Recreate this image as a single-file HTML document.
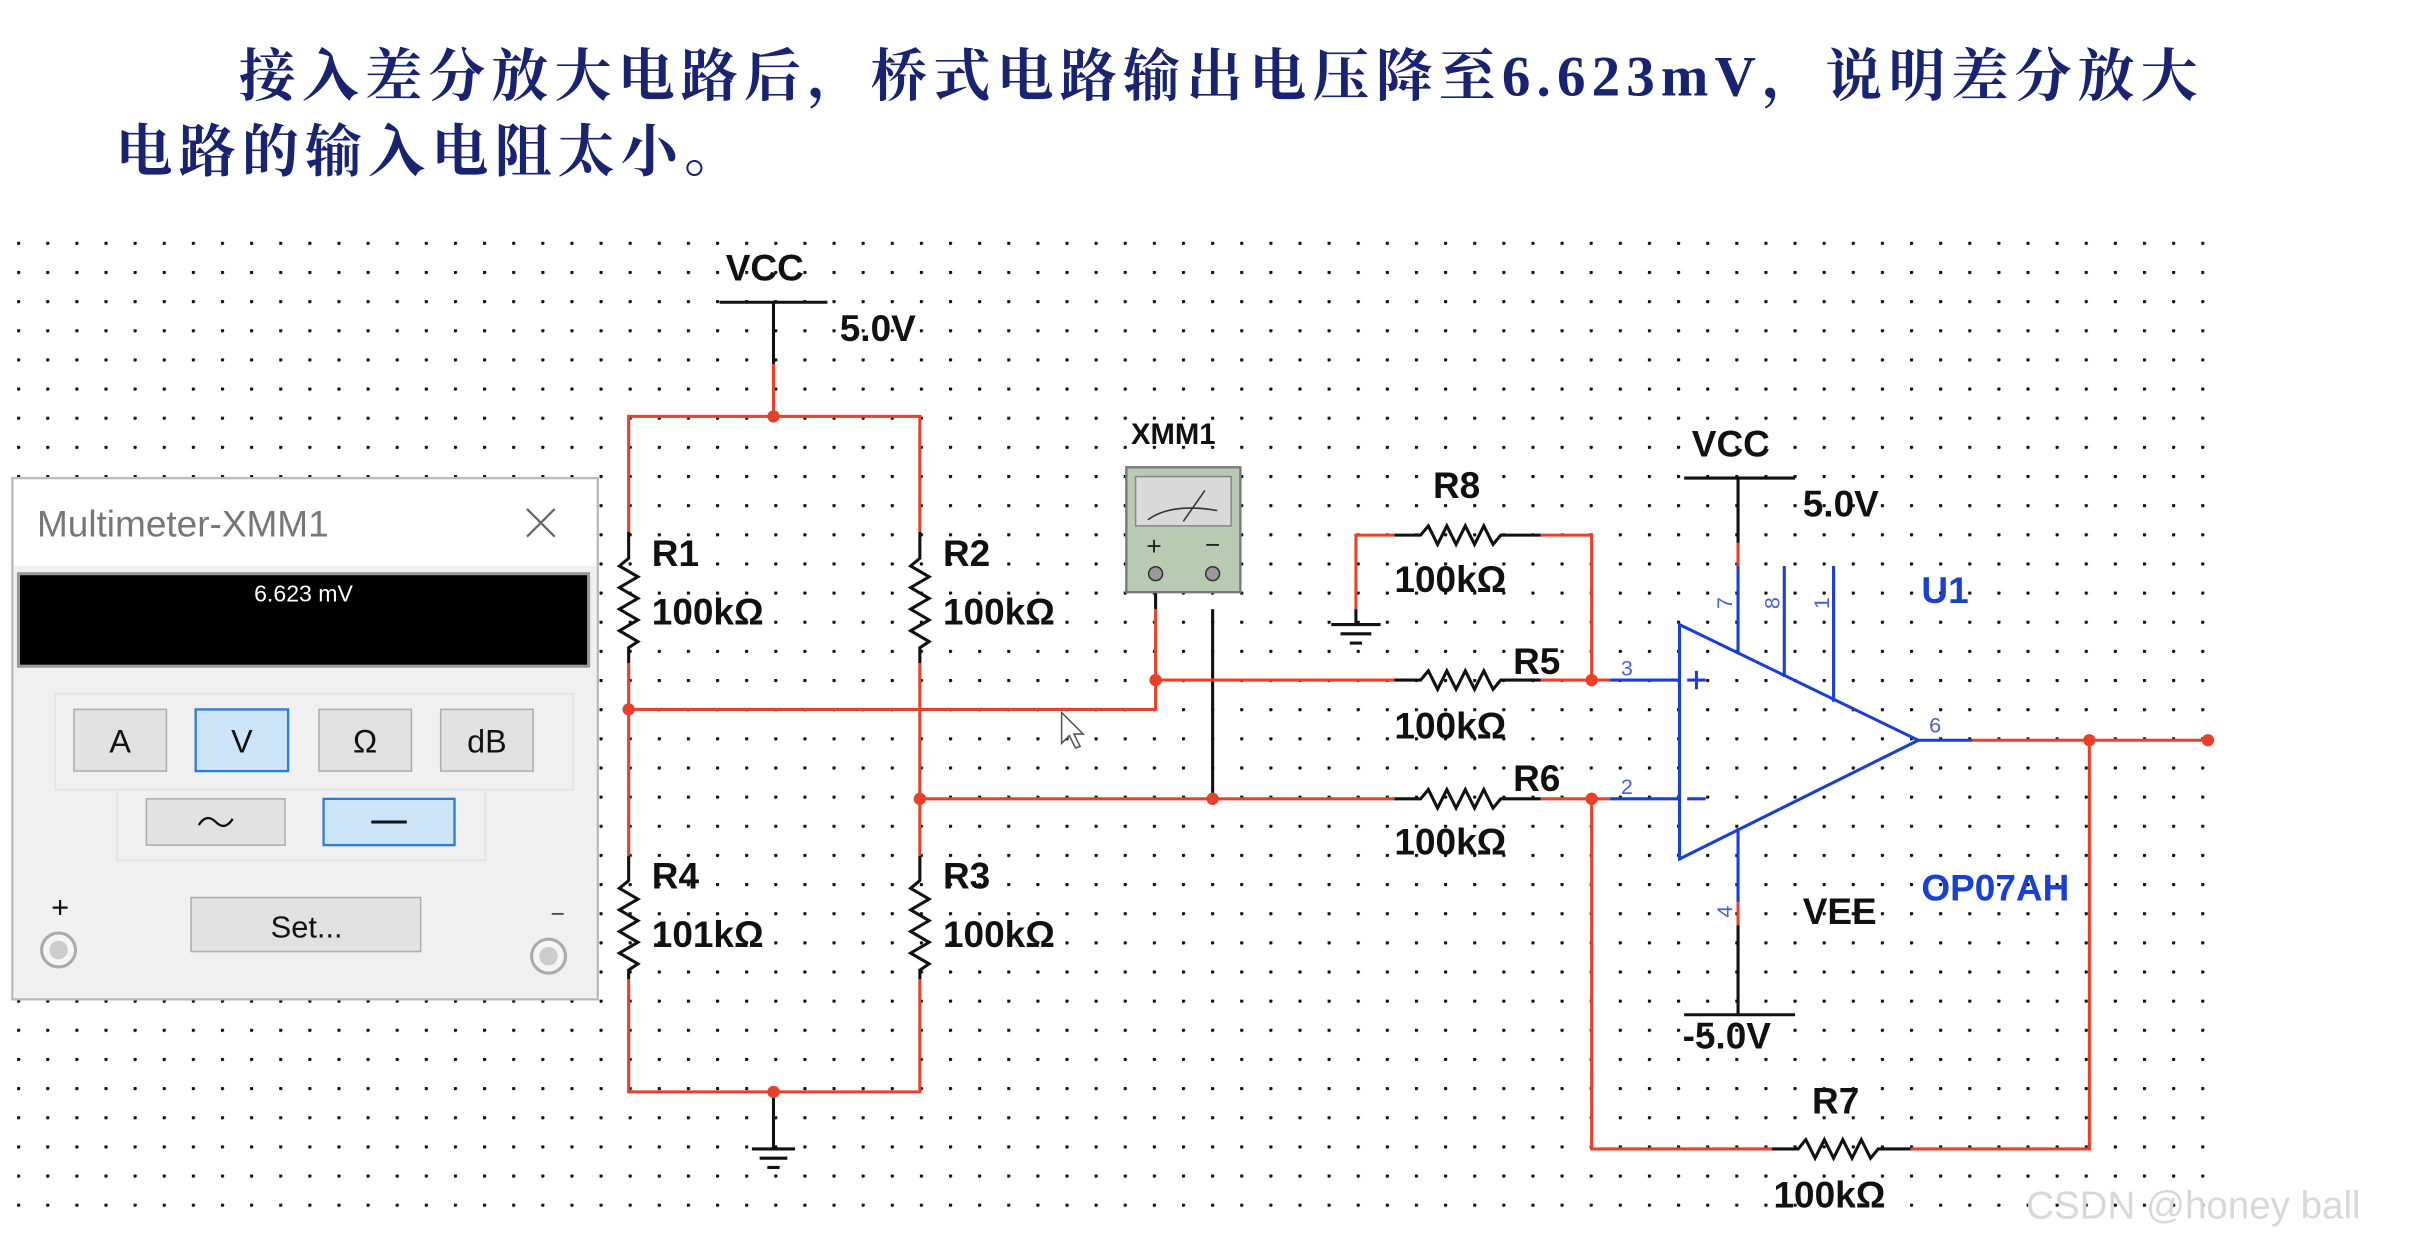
<!DOCTYPE html>
<html><head><meta charset="utf-8">
<style>
html,body{margin:0;padding:0;background:#fff;}
svg{display:block;}
.cjk{font-family:"Liberation Serif","Noto Serif CJK SC",serif;}
.s{font-family:"Liberation Sans",sans-serif;}
</style></head>
<body>
<svg width="2416" height="1243" viewBox="0 0 1568 806" preserveAspectRatio="none" xmlns="http://www.w3.org/2000/svg">
<defs>
<pattern id="g" x="11.1" y="5.6" width="18.9" height="18.9" patternUnits="userSpaceOnUse">
<circle cx="0.9" cy="0.9" r="1.2" fill="#111"/>
</pattern>
</defs>
<rect width="1568" height="806" fill="#fff"/>
<text x="155" y="62" font-size="37" fill="#1a2370" class="cjk" font-weight="bold" letter-spacing="4">接入差分放大电路后，桥式电路输出电压降至6.623mV，说明差分放大</text>
<text x="75" y="111" font-size="37" fill="#1a2370" class="cjk" font-weight="bold" letter-spacing="4">电路的输入电阻太小。</text>

<rect x="9" y="155" width="1432" height="640" fill="url(#g)"/>

<g fill="none" stroke-width="2">
<line x1="467" y1="196" x2="537" y2="196" stroke="#111"/>
<line x1="502" y1="196" x2="502" y2="236" stroke="#111"/>
<line x1="502" y1="236" x2="502" y2="270" stroke="#e8402a"/>
<polyline points="408,345 408,270 597,270 597,345" stroke="#e8402a"/>
<polyline points="408,635 408,708 597,708 597,635" stroke="#e8402a"/>
<line x1="408" y1="430" x2="408" y2="555" stroke="#e8402a"/>
<line x1="597" y1="430" x2="597" y2="555" stroke="#e8402a"/>
<g stroke="#111">
<polyline points="408,345 408,362 402,367 414,374 402,381 414,388 402,395 414,402 402,409 414,416 408,420 408,430"/>
<polyline points="597,345 597,362 591,367 603,374 591,381 603,388 591,395 603,402 591,409 603,416 597,420 597,430"/>
<polyline points="408,555 408,571 402,576 414,583 402,590 414,597 402,604 414,611 402,618 414,625 408,629 408,635"/>
<polyline points="597,555 597,571 591,576 603,583 591,590 603,597 591,604 603,611 591,618 603,625 597,629 597,635"/>
</g>
<line x1="502" y1="708" x2="502" y2="745" stroke="#111"/>
<line x1="488" y1="745" x2="516" y2="745" stroke="#111"/>
<line x1="493" y1="751" x2="511" y2="751" stroke="#111"/>
<line x1="498" y1="757" x2="506" y2="757" stroke="#111"/>
<polyline points="408,460 750,460 750,395" stroke="#e8402a"/>
<line x1="750" y1="395" x2="750" y2="378" stroke="#111"/>
<line x1="597" y1="518" x2="905" y2="518" stroke="#e8402a"/>
<line x1="787" y1="518" x2="787" y2="395" stroke="#111"/>
<line x1="750" y1="441" x2="905" y2="441" stroke="#e8402a"/>
<polyline points="905,441 922,441 927,435 933,447 939,435 945,447 951,435 957,447 963,435 969,447 974,441 1000,441" stroke="#111"/>
<line x1="1000" y1="441" x2="1045" y2="441" stroke="#e8402a"/>
<line x1="1045" y1="441" x2="1090" y2="441" stroke="#1a3fd1"/>
<polyline points="905,518 922,518 927,512 933,524 939,512 945,524 951,512 957,524 963,512 969,524 974,518 1000,518" stroke="#111"/>
<line x1="1000" y1="518" x2="1045" y2="518" stroke="#e8402a"/>
<line x1="1045" y1="518" x2="1090" y2="518" stroke="#1a3fd1"/>
<polyline points="880,395 880,347 905,347" stroke="#e8402a"/>
<polyline points="905,347 922,347 927,341 933,353 939,341 945,353 951,341 957,353 963,341 969,353 974,347 1000,347" stroke="#111"/>
<polyline points="1000,347 1033,347 1033,441" stroke="#e8402a"/>
<line x1="880" y1="395" x2="880" y2="405" stroke="#111"/>
<line x1="864" y1="405" x2="896" y2="405" stroke="#111"/>
<line x1="870" y1="411" x2="890" y2="411" stroke="#111"/>
<line x1="876" y1="417" x2="884" y2="417" stroke="#111"/>
<polyline points="1033,518 1033,745 1150,745" stroke="#e8402a"/>
<polyline points="1150,745 1167,745 1172,739 1178,751 1184,739 1190,751 1196,739 1202,751 1208,739 1214,751 1219,745 1240,745" stroke="#111"/>
<polyline points="1240,745 1356,745 1356,480" stroke="#e8402a"/>
<polygon points="1090,405 1090,557 1245,480" stroke="#1a3fd1"/>
<line x1="1245" y1="480" x2="1280" y2="480" stroke="#1a3fd1"/>
<line x1="1280" y1="480" x2="1433" y2="480" stroke="#e8402a"/>
<line x1="1128" y1="367" x2="1128" y2="424" stroke="#1a3fd1"/>
<line x1="1158" y1="367" x2="1158" y2="439" stroke="#1a3fd1"/>
<line x1="1190" y1="367" x2="1190" y2="455" stroke="#1a3fd1"/>
<line x1="1128" y1="537" x2="1128" y2="585" stroke="#1a3fd1"/>
<line x1="1128" y1="585" x2="1128" y2="600" stroke="#e8402a"/>
<line x1="1128" y1="600" x2="1128" y2="658" stroke="#111"/>
<line x1="1093" y1="658" x2="1165" y2="658" stroke="#111"/>
<line x1="1128" y1="310" x2="1128" y2="352" stroke="#111"/>
<line x1="1128" y1="352" x2="1128" y2="367" stroke="#e8402a"/>
<line x1="1093" y1="310" x2="1165" y2="310" stroke="#111"/>
<line x1="1095" y1="441" x2="1107" y2="441" stroke="#1a3fd1"/>
<line x1="1101" y1="435" x2="1101" y2="447" stroke="#1a3fd1"/>
<line x1="1095" y1="518" x2="1107" y2="518" stroke="#1a3fd1"/>
</g>
<g fill="#e8402a">
<circle cx="502" cy="270" r="4"/><circle cx="502" cy="708" r="4"/>
<circle cx="408" cy="460" r="4"/><circle cx="597" cy="518" r="4"/>
<circle cx="750" cy="441" r="4"/><circle cx="787" cy="518" r="4"/>
<circle cx="1033" cy="441" r="4"/><circle cx="1033" cy="518" r="4"/>
<circle cx="1356" cy="480" r="4"/><circle cx="1433" cy="480" r="4"/>
</g>
<rect x="731" y="303" width="74" height="81" fill="#b9cab3" stroke="#777" stroke-width="1.5"/>
<rect x="737" y="309" width="62" height="32" fill="#d9d9d9" stroke="#888"/>
<path d="M745,337 Q760,326 790,331" stroke="#333" fill="none"/>
<line x1="768" y1="338" x2="782" y2="318" stroke="#333"/>
<text x="749" y="360" font-size="17" text-anchor="middle" class="s" fill="#222">+</text>
<text x="787" y="359" font-size="17" text-anchor="middle" class="s" fill="#222">−</text>
<circle cx="750" cy="372" r="4.5" fill="#999" stroke="#333"/>
<circle cx="787" cy="372" r="4.5" fill="#999" stroke="#333"/>
<g class="s" font-weight="bold" fill="#111" font-size="24">
<text x="471" y="182">VCC</text>
<text x="545" y="221">5.0V</text>
<text x="423" y="367">R1</text><text x="423" y="405">100kΩ</text>
<text x="612" y="367">R2</text><text x="612" y="405">100kΩ</text>
<text x="423" y="576">R4</text><text x="423" y="614">101kΩ</text>
<text x="612" y="576">R3</text><text x="612" y="614">100kΩ</text>
<text x="734" y="288" font-size="19">XMM1</text>
<text x="930" y="323">R8</text><text x="905" y="384">100kΩ</text>
<text x="982" y="437">R5</text><text x="905" y="479">100kΩ</text>
<text x="982" y="513">R6</text><text x="905" y="554">100kΩ</text>
<text x="1176" y="722">R7</text><text x="1151" y="783">100kΩ</text>
<text x="1098" y="296">VCC</text>
<text x="1170" y="335">5.0V</text>
<text x="1170" y="599">VEE</text>
<text x="1092" y="680">-5.0V</text>
<text x="1247" y="391" fill="#1a3fd1">U1</text>
<text x="1247" y="584" fill="#1a3fd1">OP07AH</text>
</g>
<g class="s" fill="#4a60d8" font-size="14">
<text x="1052" y="438">3</text><text x="1052" y="515">2</text><text x="1252" y="475">6</text>
<text transform="translate(1124,395) rotate(-90)">7</text>
<text transform="translate(1155,395) rotate(-90)">8</text>
<text transform="translate(1187,395) rotate(-90)">1</text>
<text transform="translate(1124,595) rotate(-90)">4</text>
</g>
<rect x="8" y="310" width="380" height="338" fill="#f0f0f0" stroke="#bbb" stroke-width="1.5"/>
<rect x="9" y="311" width="378" height="56" fill="#fff"/>
<text x="24" y="348" font-size="24" class="s" fill="#777">Multimeter-XMM1</text>
<path d="M342,330 L360,348 M360,330 L342,348" stroke="#666" stroke-width="1.5"/>
<rect x="12" y="372" width="370" height="60" fill="#000" stroke="#999" stroke-width="2"/>
<text x="197" y="390" font-size="15" text-anchor="middle" class="s" fill="#fff">6.623 mV</text>
<rect x="36" y="450" width="336" height="62" fill="none" stroke="#e2e2e2"/>
<rect x="48" y="460" width="60" height="40" fill="#e1e1e1" stroke="#adadad"/>
<rect x="127" y="460" width="60" height="40" fill="#cce4f7" stroke="#2a7ed8" stroke-width="1.5"/>
<rect x="207" y="460" width="60" height="40" fill="#e1e1e1" stroke="#adadad"/>
<rect x="286" y="460" width="60" height="40" fill="#e1e1e1" stroke="#adadad"/>
<rect x="76" y="512" width="239" height="46" fill="none" stroke="#e2e2e2"/>
<rect x="95" y="518" width="90" height="30" fill="#e1e1e1" stroke="#adadad"/>
<path d="M129,535 Q134,527 140,533 Q146,539 151,531" stroke="#111" fill="none" stroke-width="1.5"/>
<rect x="210" y="518" width="85" height="30" fill="#cce4f7" stroke="#2a7ed8" stroke-width="1.5"/>
<line x1="241" y1="533" x2="264" y2="533" stroke="#111" stroke-width="2"/>
<rect x="124" y="582" width="149" height="35" fill="#e1e1e1" stroke="#adadad"/>
<g class="s" font-size="21" fill="#111" text-anchor="middle">
<text x="78" y="488">A</text><text x="157" y="488">V</text><text x="237" y="488">Ω</text><text x="316" y="488">dB</text>
<text x="199" y="608" font-size="20">Set...</text>
</g>
<text x="39" y="595" font-size="20" class="s" text-anchor="middle" fill="#111">+</text>
<text x="362" y="598" font-size="16" class="s" text-anchor="middle" fill="#444">−</text>
<circle cx="38" cy="616" r="11" fill="#f5f5f5" stroke="#aaa" stroke-width="2"/>
<circle cx="38" cy="616" r="6" fill="#ccc"/>
<circle cx="356" cy="620" r="11" fill="#f5f5f5" stroke="#aaa" stroke-width="2"/>
<circle cx="356" cy="620" r="6" fill="#ccc"/>
<path d="M689,462 L689,482 L694,477 L698,485 L701,484 L697,476 L703,476 Z" fill="#fff" stroke="#555"/>
<text x="1315" y="790" font-size="25" class="s" fill="#d8d8d8">CSDN @honey ball</text>
</svg>
</body></html>
